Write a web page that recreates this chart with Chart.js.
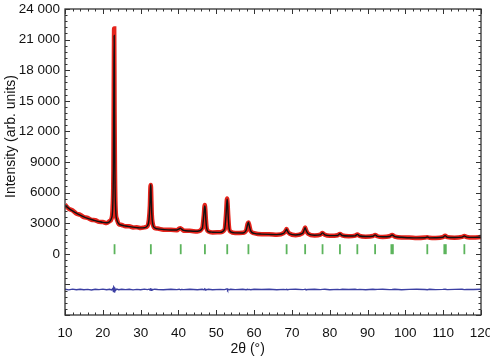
<!DOCTYPE html>
<html>
<head>
<meta charset="utf-8">
<script src="https://cdn.jsdelivr.net/npm/chart.js@4.4.0/dist/chart.umd.min.js"></script>
<style>
html, body { margin: 0; padding: 0; background: #fff; }
</style>
</head>
<body>
<canvas id="mycanvas" width="490" height="357"></canvas>
<script>
// 2theta positions (deg)
var twoTheta = [10, 11, 12, 13, 14, 15, 16, 17, 18, 19, 20, 21, 21.8, 22.3, 22.6, 22.8, 22.9, 23.0, 23.1, 23.2, 23.4, 23.7, 24.2,
	25, 26, 27, 28, 29, 30, 31, 31.8, 32.2, 32.45, 32.6, 32.7, 32.8, 32.95, 33.2, 33.7, 34.5, 36, 38,
	39.6, 40.2, 40.5, 40.8, 41.4, 43, 45, 46.3, 46.7, 46.95, 47.1, 47.25, 47.5, 47.9, 49, 51,
	52.2, 52.6, 52.85, 53.0, 53.15, 53.4, 53.8, 55, 57, 57.9, 58.3, 58.5, 58.7, 59.1, 60, 62, 64, 66,
	67.8, 68.4, 68.6, 68.8, 69.4, 71, 72.8, 73.3, 73.5, 73.7, 74.3, 76, 77.5, 78.1, 78.7, 80,
	82.1, 82.7, 83.3, 85, 86.7, 87.3, 87.9, 89.5, 91.4, 92.0, 92.6, 94, 95.8, 96.5, 97.2, 99, 101, 103,
	105.2, 105.8, 106.4, 108, 109.9, 110.5, 111.1, 113, 115.0, 115.6, 116.2, 118, 120];

// calculated profile
var yCalc = [4750, 4450, 4200, 3980, 3790, 3620, 3480, 3360, 3250, 3160, 3080, 3050, 3150, 3500, 4400, 8500, 15500, 21400, 14500, 7800, 4300, 3350, 2950,
	2800, 2720, 2660, 2610, 2570, 2540, 2560, 2750, 3300, 4800, 6400, 6800, 5600, 3900, 2900, 2550, 2450, 2380, 2330,
	2340, 2450, 2520, 2420, 2290, 2230, 2210, 2500, 3800, 4700, 4350, 3300, 2450, 2180, 2120, 2100,
	2400, 3900, 5350, 4900, 3700, 2500, 2150, 2050, 2040, 2300, 2900, 3100, 2800, 2250, 2000, 1930, 1900, 1880,
	2000, 2300, 2400, 2250, 1950, 1850, 2000, 2400, 2550, 2350, 1950, 1820, 1850, 2050, 1850, 1780,
	1800, 1960, 1790, 1740, 1760, 1900, 1750, 1700, 1720, 1860, 1710, 1670, 1700, 1850, 1680, 1620, 1580, 1560,
	1570, 1640, 1560, 1570, 1620, 1780, 1620, 1600, 1640, 1750, 1640, 1610, 1620];

// observed intensities
var yObs = [4820, 4420, 4250, 3940, 3830, 3590, 3520, 3330, 3290, 3130, 3110, 3010, 3200, 3450, 4600, 8100, 16200, 22100, 14000, 8300, 4200, 3420, 2920,
	2830, 2690, 2690, 2580, 2600, 2520, 2590, 2720, 3380, 4700, 6550, 6750, 5700, 3820, 2950, 2530, 2470, 2360, 2350,
	2320, 2480, 2500, 2440, 2270, 2250, 2190, 2540, 3740, 4780, 4300, 3360, 2420, 2200, 2100, 2120,
	2370, 3980, 5420, 4850, 3760, 2480, 2170, 2030, 2060, 2280, 2960, 3080, 2830, 2230, 2020, 1910, 1920, 1860,
	2020, 2280, 2430, 2240, 1970, 1830, 2020, 2380, 2580, 2340, 1970, 1800, 1870, 2030, 1860, 1760,
	1820, 1950, 1800, 1720, 1780, 1890, 1760, 1680, 1740, 1850, 1720, 1650, 1720, 1840, 1690, 1600, 1600, 1540,
	1590, 1630, 1570, 1550, 1640, 1770, 1630, 1580, 1660, 1740, 1650, 1590, 1640];

// difference curve (shifted)
var yDiff = [-3480, -3540, -3460, -3530, -3470, -3520, -3490, -3550, -3470, -3510, -3460, -3530, -3480, -3550, -3420, -3700, -3250, -3300, -3800, -3350, -3580, -3460, -3520,
	-3480, -3510, -3470, -3540, -3490, -3520, -3460, -3510, -3470, -3540, -3440, -3450, -3570, -3480, -3520, -3470, -3500, -3530, -3480,
	-3510, -3470, -3530, -3490, -3510, -3470, -3520, -3480, -3530, -3440, -3560, -3490, -3510, -3480, -3520, -3490,
	-3510, -3460, -3430, -3560, -3490, -3520, -3480, -3510, -3470, -3520, -3480, -3510, -3490, -3520, -3480, -3500, -3470, -3520,
	-3490, -3510, -3480, -3520, -3490, -3470, -3510, -3490, -3470, -3520, -3500, -3480, -3510, -3490, -3480, -3520,
	-3490, -3510, -3480, -3500, -3470, -3510, -3490, -3520, -3480, -3500, -3490, -3470, -3510, -3500, -3480, -3520, -3490, -3470,
	-3500, -3520, -3480, -3510, -3490, -3470, -3510, -3490, -3480, -3510, -3490, -3500, -3480];

// Bragg reflection positions
var braggPos = [23.1, 32.7, 40.6, 47.0, 52.9, 58.5, 68.6, 73.5, 78.1, 82.7, 87.3, 92.0, 96.3, 96.7, 105.8, 110.3, 110.7, 115.6];
var braggLevel = 450;

var xMin = 10, xMax = 120, xStep = 10;
var yMin = -6000, yMax = 24000, yStep = 3000;

function pts(xs, ys) {
	var out = [];
	for (var i = 0; i < xs.length; i++) out.push({x: xs[i], y: ys[i]});
	return out;
}

var braggPts = [];
for (var i in braggPos) braggPts.push({x: braggPos[i], y: braggLevel});

var font = "'Liberation Sans', Arial, Helvetica, sans-serif";

var frameTicks = {
	id: 'frameTicks',
	afterDraw: function(chart) {
		var ctx = chart.ctx, a = chart.chartArea;
		var xs = chart.scales.x, ys = chart.scales.y;
		ctx.save();
		ctx.strokeStyle = '#333';
		ctx.lineWidth = 1.3;
		ctx.strokeRect(a.left, a.top, a.right - a.left, a.bottom - a.top);
		ctx.lineWidth = 1;
		ctx.beginPath();
		for (var v = xMin; v <= xMax; v += 2) {
			var px = Math.round(xs.getPixelForValue(v)) + 0.5;
			var len = (v % xStep === 0) ? 5 : 2.5;
			ctx.moveTo(px, a.bottom); ctx.lineTo(px, a.bottom - len);
			ctx.moveTo(px, a.top); ctx.lineTo(px, a.top + len);
		}
		for (var w = yMin; w <= yMax; w += 600) {
			var py = Math.round(ys.getPixelForValue(w)) + 0.5;
			var l2 = (w % yStep === 0) ? 5 : 2.5;
			ctx.moveTo(a.left, py); ctx.lineTo(a.left + l2, py);
			ctx.moveTo(a.right, py); ctx.lineTo(a.right - l2, py);
		}
		ctx.stroke();
		ctx.fillStyle = '#111';
		ctx.font = '14px ' + font;
		ctx.textAlign = 'center';
		ctx.textBaseline = 'middle';
		// x axis title
		ctx.fillText('2θ (°)', xs.getPixelForValue(58.3), 349);
		// y axis title
		ctx.translate(11, ys.getPixelForValue(11500));
		ctx.rotate(-Math.PI / 2);
		ctx.fillText('Intensity (arb. units)', 0, 0);
		ctx.restore();
	}
};

var ctx = document.getElementById('mycanvas');

var chart = new Chart(ctx, {
	type: 'scatter',
	data: {
		datasets: [
			{
				label: 'calc',
				data: pts(twoTheta, yCalc),
				showLine: true,
				borderColor: '#111',
				borderWidth: 1.4,
				pointRadius: 0,
				cubicInterpolationMode: 'monotone',
				order: 0
			},
			{
				label: 'obs',
				data: pts(twoTheta, yObs),
				showLine: true,
				borderColor: '#e5241c',
				borderWidth: 4.5,
				pointRadius: 0,
				cubicInterpolationMode: 'monotone',
				order: 1
			},
			{
				label: 'diff',
				data: pts(twoTheta, yDiff),
				showLine: true,
				borderColor: '#3b3fa3',
				borderWidth: 1.4,
				pointRadius: 0,
				order: 2
			},
			{
				label: 'bragg',
				data: braggPts,
				pointStyle: 'line',
				rotation: 90,
				pointRadius: 5,
				pointBorderWidth: 1.8,
				borderColor: '#5cb45c',
				backgroundColor: '#5cb45c',
				order: 3
			}
		]
	},
	options: {
		responsive: false,
		animation: false,
		devicePixelRatio: 1,
		layout: { padding: 0 },
		plugins: { legend: { display: false }, tooltip: { enabled: false } },
		scales: {
			x: {
				type: 'linear',
				min: xMin, max: xMax,
				grid: { display: false, drawTicks: false },
				border: { display: false },
				ticks: { stepSize: xStep, padding: 10, color: '#111', font: { family: font, size: 13.5 }, maxRotation: 0 },
				afterFit: function(s) { s.height = 42; s.paddingRight = 9; s.paddingLeft = 0; }
			},
			y: {
				min: yMin, max: yMax,
				grid: { display: false, drawTicks: false },
				border: { display: false },
				ticks: {
					stepSize: yStep, padding: 5, color: '#111', font: { family: font, size: 13.5 },
					callback: function(v) {
						if (v < 0) return '';
						if (v >= 10000) return Math.floor(v / 1000) + ' 000';
						return String(v);
					}
				},
				afterFit: function(s) { s.width = 65; s.paddingTop = 9; s.paddingBottom = 0; }
			}
		}
	},
	plugins: [frameTicks]
});
</script>
</body>
</html>
